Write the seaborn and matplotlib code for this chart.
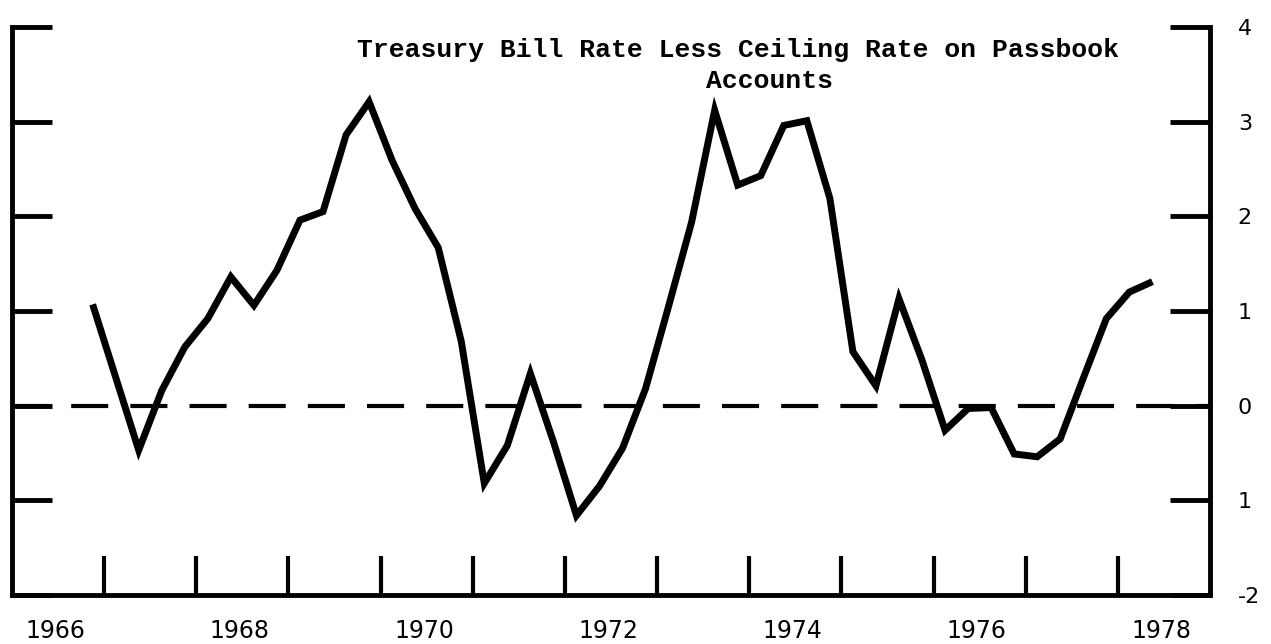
import matplotlib
matplotlib.use("Agg")
import matplotlib.pyplot as plt
import seaborn as sns
import pandas as pd
import numpy as np

# ---- data (quarterly) ----
quarters = ["1966Q4",
            "1967Q1", "1967Q2", "1967Q3", "1967Q4",
            "1968Q1", "1968Q2", "1968Q3", "1968Q4",
            "1969Q1", "1969Q2", "1969Q3", "1969Q4",
            "1970Q1", "1970Q2", "1970Q3", "1970Q4",
            "1971Q1", "1971Q2", "1971Q3", "1971Q4",
            "1972Q1", "1972Q2", "1972Q3", "1972Q4",
            "1973Q1", "1973Q2", "1973Q3", "1973Q4",
            "1974Q1", "1974Q2", "1974Q3", "1974Q4",
            "1975Q1", "1975Q2", "1975Q3", "1975Q4",
            "1976Q1", "1976Q2", "1976Q3", "1976Q4",
            "1977Q1", "1977Q2", "1977Q3", "1977Q4",
            "1978Q1", "1978Q2"]
spread = [1.07,
          0.30, -0.47, 0.16, 0.62,
          0.92, 1.36, 1.06, 1.43,
          1.96, 2.05, 2.86, 3.21,
          2.59, 2.08, 1.67, 0.68,
          -0.82, -0.42, 0.34, -0.38,
          -1.16, -0.85, -0.45, 0.18,
          1.05, 1.94, 3.12, 2.33,
          2.43, 2.96, 3.01, 2.19,
          0.57, 0.21, 1.13, 0.48,
          -0.26, -0.03, -0.02, -0.51,
          -0.54, -0.35, 0.29, 0.92,
          1.20, 1.31]
year_labels = ["1966", "1968", "1970", "1972", "1974", "1976", "1978"]
year_boundaries = list(range(1967, 1979))
y_ticks = [-2, -1, 0, 1, 2, 3, 4]
y_tick_labels = ["-2", "1", "0", "1", "2", "3", "4"]
title_line1 = "Treasury Bill Rate Less Ceiling Rate on Passbook"
title_line2 = "Accounts"

df = pd.DataFrame({"quarter": quarters, "spread": spread})
df["t"] = [int(q[:4]) + (int(q[-1]) - 0.5) / 4 for q in df["quarter"]]

sns.set_style("white")
plt.rcParams["font.family"] = ["DejaVu Sans"]
plt.rcParams["text.color"] = "black"
plt.rcParams["xtick.color"] = "black"
plt.rcParams["ytick.color"] = "black"

W, H = 1271, 644
fig = plt.figure(figsize=(W / 100, H / 100), dpi=100)
ax = fig.add_axes([12 / W, 1 - 595 / H, (1210 - 12) / W, (595 - 27) / H])

sns.lineplot(data=df, x="t", y="spread", ax=ax, color="black", lw=5,
             solid_joinstyle="miter", solid_capstyle="butt")
ax.axhline(0, color="black", lw=3, linestyle=(0, (8.9, 5.3)), zorder=1)

ax.set_xlim(1966, 1979)
ax.set_ylim(-2, 4)
ax.set_xlabel("")
ax.set_ylabel("")

for s in ["left", "bottom", "right"]:
    ax.spines[s].set_visible(True)
    ax.spines[s].set_linewidth(3.5)
    ax.spines[s].set_color("black")
ax.spines["top"].set_visible(False)

# x axis: labels centred in years, tick marks at year boundaries
ax.set_xticks([int(y) + 0.47 for y in year_labels])
ax.set_xticklabels(year_labels)
ax.set_xticks(year_boundaries, minor=True)
ax.tick_params(axis="x", which="major", length=0, pad=17, labelsize=17,
               labelcolor="black")
ax.tick_params(axis="x", which="minor", direction="in", length=28,
               width=3, color="black", bottom=True, top=False)

# y axis: ticks on both sides, labels on right
ax.set_yticks(y_ticks)
ax.set_yticklabels(y_tick_labels)
ax.set_yticks([4], minor=True)
ax.tick_params(axis="y", which="major", direction="in", length=29, width=3.5,
               left=True, right=True, labelleft=False, labelright=True,
               pad=20, labelsize=16, color="black", labelcolor="black")
ax.tick_params(axis="y", which="minor", direction="in", length=41, width=3.5,
               left=True, right=True, color="black")

ax.text(738 / W, 1 - 57 / H, title_line1, transform=fig.transFigure,
        ha="center", va="baseline", fontsize=19, family="Liberation Mono",
        fontweight="bold", color="black")
ax.text(770 / W, 1 - 88 / H, title_line2, transform=fig.transFigure,
        ha="center", va="baseline", fontsize=19, family="Liberation Mono",
        fontweight="bold", color="black")

fig.savefig("out.png", dpi=100, facecolor="white")
